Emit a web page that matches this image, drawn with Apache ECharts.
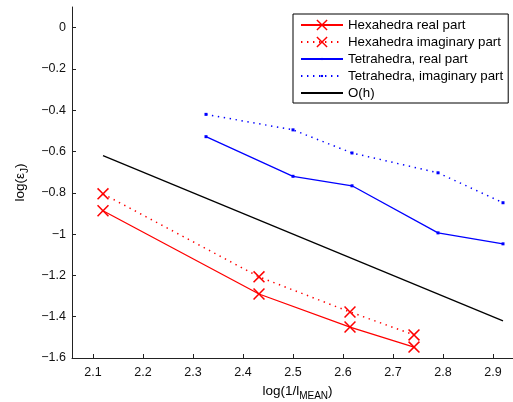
<!DOCTYPE html>
<html>
<head>
<meta charset="utf-8">
<script src="https://cdn.jsdelivr.net/npm/echarts@6/dist/echarts.min.js"></script>
<style>
    html, body { margin: 0; padding: 0; background: #fff; }
    #chart { width: 513px; height: 402px; }
</style>
</head>
<body>
<div id="chart"></div>
<script>
// values
const hexX = [2.12, 2.432, 2.614, 2.742]
const hexReal = [-0.887, -1.29, -1.45, -1.547]
const hexImag = [-0.805, -1.207, -1.377, -1.488]

const tetX = [2.326, 2.5, 2.618, 2.79, 2.92]
const tetReal = [-0.528, -0.72, -0.766, -0.994, -1.047]
const tetImag = [-0.42, -0.495, -0.607, -0.703, -0.848]

const ohX = [2.12, 2.92]
const ohY = [-0.62, -1.42]

const xTicks = [2.1, 2.2, 2.3, 2.4, 2.5, 2.6, 2.7, 2.8, 2.9]
const yTicks = [-1.6, -1.4, -1.2, -1, -0.8, -0.6, -0.4, -0.2, 0]

const names = [
    'Hexahedra real part',
    'Hexahedra imaginary part',
    'Tetrahedra, real part',
    'Tetrahedra, imaginary part',
    'O(h)'
]

const zip = (xs, ys) => xs.map((x, i) => [x, ys[i]])

// matlab-like markers
const crossSymbol = 'path://M0,0.9L0.9,0L5,4.1L9.1,0L10,0.9L5.9,5L10,9.1L9.1,10L5,5.9L0.9,10L0,9.1L4.1,5Z'
const dotSymbol = 'path://M0,0L0,0M16,16L16,16M6.5,6.5L9.5,6.5L9.5,9.5L6.5,9.5Z'
const noSymbol = 'path://M0,0L0,0M10,10L10,10'

const dotted = [1.4, 4.6]
const font = '"Liberation Sans", Arial, sans-serif'
const minus = v => v === 0 ? '0' : (v < 0 ? '\u2212' : '') + String(Math.abs(v))

const nameRich = {
    a: {fontSize: 13.5, color: '#000', fontFamily: font, verticalAlign: 'top', lineHeight: 17},
    s: {fontSize: 10, color: '#000', fontFamily: font, verticalAlign: 'top', lineHeight: 17, padding: [7, 0, 0, 0]}
}

let chart = echarts.init(document.getElementById('chart'), null, {renderer: 'canvas'})

chart.setOption({
    animation: false,
    textStyle: {fontFamily: font},
    grid: {left: 72, top: 7, right: 0, bottom: 44, outerBoundsMode: 'none'},
    legend: {
        orient: 'vertical',
        left: 293,
        top: 14,
        padding: [4, 5, 3, 7],
        itemGap: 3,
        itemWidth: 42,
        itemHeight: 14,
        borderColor: '#000',
        borderWidth: 1,
        backgroundColor: '#fff',
        selectedMode: false,
        textStyle: {fontSize: 13.3, lineHeight: 14, color: '#000', fontFamily: font},
        data: names
    },
    xAxis: {
        type: 'value',
        min: 2.058,
        max: 2.94,
        name: '{a|log(1/l}{s|MEAN}{a|)}',
        nameLocation: 'middle',
        nameGap: 20,
        nameTextStyle: {padding: [0, 0, 0, 10], rich: nameRich},
        axisLine: {onZero: false, lineStyle: {color: '#222', width: 1}},
        axisTick: {inside: true, length: 4, customValues: xTicks, lineStyle: {color: '#222'}},
        axisLabel: {customValues: xTicks, fontSize: 12.5, color: '#111', margin: 8, fontFamily: font},
        splitLine: {show: false}
    },
    yAxis: {
        type: 'value',
        min: -1.6,
        max: 0.1,
        name: '{a|log(ε}{s|J}{a|)}',
        nameLocation: 'middle',
        nameRotate: 90,
        nameGap: 36,
        nameTextStyle: {rich: nameRich},
        axisLine: {show: true, onZero: false, lineStyle: {color: '#222', width: 1}},
        axisTick: {show: true, inside: true, length: 4, customValues: yTicks, lineStyle: {color: '#222'}},
        axisLabel: {customValues: yTicks, fontSize: 12.5, color: '#111', margin: 6, fontFamily: font, formatter: minus},
        splitLine: {show: false}
    },
    series: [
        {
            name: names[0],
            type: 'line',
            data: zip(hexX, hexReal),
            symbol: crossSymbol,
            symbolSize: 12,
            color: '#ff0000',
            itemStyle: {color: '#ff0000', borderWidth: 0},
            lineStyle: {color: '#ff0000', width: 1.3}
        },
        {
            name: names[1],
            type: 'line',
            data: zip(hexX, hexImag),
            symbol: crossSymbol,
            symbolSize: 12,
            color: '#ff0000',
            itemStyle: {color: '#ff0000', borderWidth: 0},
            lineStyle: {color: '#ff0000', width: 1.5, type: dotted}
        },
        {
            name: names[2],
            type: 'line',
            data: zip(tetX, tetReal),
            symbol: dotSymbol,
            symbolSize: 16,
            color: '#0000ff',
            itemStyle: {color: '#0000ff', borderWidth: 0},
            lineStyle: {color: '#0000ff', width: 1.3}
        },
        {
            name: names[3],
            type: 'line',
            data: zip(tetX, tetImag),
            symbol: dotSymbol,
            symbolSize: 16,
            color: '#0000ff',
            itemStyle: {color: '#0000ff', borderWidth: 0},
            lineStyle: {color: '#0000ff', width: 1.5, type: dotted}
        },
        {
            name: names[4],
            type: 'line',
            data: zip(ohX, ohY),
            symbol: noSymbol,
            showSymbol: false,
            color: '#000',
            itemStyle: {color: '#000', borderWidth: 0},
            lineStyle: {color: '#000', width: 1.3}
        }
    ]
})
</script>
</body>
</html>
